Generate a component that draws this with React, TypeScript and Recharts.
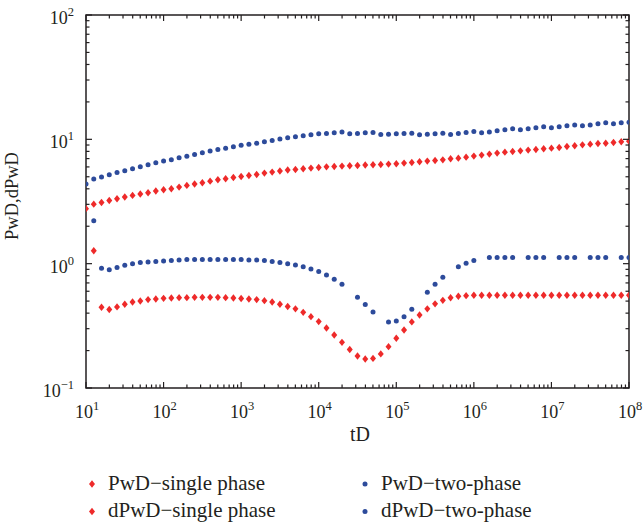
import React from 'react';
import { ScatterChart, Scatter, XAxis, YAxis, ReferenceArea } from 'recharts';

// tD sample points (log-spaced)
const TD = [
  1e1, 1.259e1, 1.585e1, 1.995e1, 2.512e1, 3.162e1, 3.981e1, 5.012e1, 6.31e1, 7.943e1,
  1e2, 1.259e2, 1.585e2, 1.995e2, 2.512e2, 3.162e2, 3.981e2, 5.012e2, 6.31e2, 7.943e2,
  1e3, 1.259e3, 1.585e3, 1.995e3, 2.512e3, 3.162e3, 3.981e3, 5.012e3, 6.31e3, 7.943e3,
  1e4, 1.259e4, 1.585e4, 1.995e4, 2.512e4, 3.162e4, 3.981e4, 5.012e4, 6.31e4, 7.943e4,
  1e5, 1.259e5, 1.585e5, 1.995e5, 2.512e5, 3.162e5, 3.981e5, 5.012e5, 6.31e5, 7.943e5,
  1e6, 1.259e6, 1.585e6, 1.995e6, 2.512e6, 3.162e6, 3.981e6, 5.012e6, 6.31e6, 7.943e6,
  1e7, 1.259e7, 1.585e7, 1.995e7, 2.512e7, 3.162e7, 3.981e7, 5.012e7, 6.31e7, 7.943e7,
  1e8,
];

const PWD_SINGLE = [
  2.77, 3.01, 3.10, 3.22, 3.33, 3.44, 3.54, 3.63, 3.72, 3.84,
  3.93, 4.00, 4.13, 4.26, 4.37, 4.48, 4.61, 4.73, 4.82, 4.93,
  5.02, 5.12, 5.22, 5.35, 5.45, 5.56, 5.66, 5.72, 5.80, 5.87,
  5.94, 6.01, 6.05, 6.09, 6.13, 6.16, 6.21, 6.24, 6.28, 6.32,
  6.36, 6.44, 6.51, 6.60, 6.68, 6.76, 6.84, 6.97, 7.06, 7.19,
  7.33, 7.47, 7.61, 7.75, 7.89, 7.98, 8.08, 8.19, 8.28, 8.39,
  8.49, 8.59, 8.75, 8.87, 9.03, 9.15, 9.25, 9.31, 9.43, 9.55,
  9.67,
];

const DPWD_SINGLE = [
  null, 1.27, 0.446, 0.428, 0.449, 0.471, 0.492, 0.501, 0.514, 0.52,
  0.526, 0.53, 0.533, 0.533, 0.536, 0.536, 0.536, 0.536, 0.533, 0.53,
  0.524, 0.52, 0.514, 0.504, 0.492, 0.471, 0.452, 0.433, 0.406, 0.375,
  0.342, 0.304, 0.267, 0.233, 0.204, 0.181, 0.171, 0.173, 0.188, 0.215,
  0.251, 0.293, 0.34, 0.387, 0.433, 0.475, 0.507, 0.532, 0.547, 0.553,
  0.557, 0.557, 0.557, 0.557, 0.557, 0.557, 0.557, 0.557, 0.557, 0.557,
  0.557, 0.557, 0.557, 0.557, 0.557, 0.557, 0.557, 0.557, 0.557, 0.557,
  0.557,
];

const PWD_TWO = [
  4.37, 4.79, 4.97, 5.19, 5.41, 5.58, 5.80, 6.01, 6.24, 6.47,
  6.68, 6.84, 7.10, 7.32, 7.55, 7.80, 8.04, 8.28, 8.49, 8.71,
  8.97, 9.14, 9.31, 9.55, 9.78, 10.04, 10.28, 10.47, 10.67, 10.87,
  11.07, 11.13, 11.28, 11.43, 11.07, 11.13, 11.28, 11.35, 10.93, 11.0,
  11.07, 11.13, 11.21, 10.87, 11.0, 11.07, 11.21, 10.93, 11.13, 11.35,
  11.55, 11.28, 11.48, 11.70, 11.92, 12.14, 11.92, 12.14, 12.37, 12.60,
  12.37, 12.60, 12.84, 13.07, 12.84, 13.07, 13.32, 13.57, 13.32, 13.57,
  13.75,
];

const DPWD_TWO = [
  null, 2.21, 0.92, 0.895, 0.933, 0.969, 1.0, 1.02, 1.03, 1.04,
  1.05, 1.06, 1.07, 1.08, 1.08, 1.08, 1.08, 1.08, 1.08, 1.08,
  1.08, 1.07, 1.07, 1.06, 1.04, 1.02, 1.0, 0.976, 0.946, 0.906,
  0.863, 0.811, 0.748, 0.682, null, 0.537, 0.469, 0.409, null, 0.34,
  0.346, 0.375, 0.43, null, 0.588, 0.682, 0.776, null, 0.946, 1.01,
  1.06, null, 1.12, 1.12, 1.12, 1.12, null, 1.12, 1.12, 1.12,
  null, 1.12, 1.12, 1.12, null, 1.12, 1.12, 1.12, null, 1.12,
  1.12,
];

const X_MAJOR = [1e1, 1e2, 1e3, 1e4, 1e5, 1e6, 1e7, 1e8];
const Y_MAJOR = [1e-1, 1e0, 1e1, 1e2];

const SERIES_NAMES = ['PwD\u2212single phase', 'dPwD\u2212single phase', 'PwD\u2212two-phase', 'dPwD\u2212two-phase'];

const RED = '#EE2A2A';
const BLUE = '#2D4B9B';
const INK = '#231F20';
const FONT = '"Liberation Serif", "Times New Roman", serif';

const W = 644;
const H = 524;
const AX = 1; // axis band thickness (must be > 0 for Recharts to draw ticks)
const M = { top: 15, right: 15, bottom: 136 - AX, left: 86 - AX };
const PT = 15;
const PB = H - 136;
const PL = 86;
const PR = W - 15;

const withMinors = (majors: number[]) => {
  const out: number[] = [];
  majors.forEach((m, i) => {
    out.push(m);
    if (i < majors.length - 1) for (let k = 2; k <= 9; k++) out.push(m * k);
  });
  return out;
};

const isMajor = (v: number, majors: number[]) => majors.some((m) => Math.abs(m - v) / m < 1e-9);

const toPoints = (vals: (number | null)[]) =>
  TD.map((x, i) => ({ x, y: vals[i] })).filter((p) => p.y != null);

const expLabel = (v: number) => {
  const e = Math.round(Math.log10(v));
  return e < 0 ? '\u2212' + Math.abs(e) : String(e);
};

const XTick = (props: any) => {
  const { x, payload } = props;
  const v = payload.value;
  const major = isMajor(v, X_MAJOR);
  const len = major ? 6 : 3.5;
  return (
    <g>
      <line x1={x} x2={x} y1={PB} y2={PB - len} stroke={INK} strokeWidth={1.2} />
      <line x1={x} x2={x} y1={PT} y2={PT + len} stroke={INK} strokeWidth={1.2} />
      {major && (
        <text x={x + 1} y={PB + 30} textAnchor="middle" fontFamily={FONT} fontSize={18} fill={INK}>
          10
          <tspan dy={-8} fontSize={12.5}>{expLabel(v)}</tspan>
        </text>
      )}
    </g>
  );
};

const YTick = (props: any) => {
  const { y, payload } = props;
  const v = payload.value;
  const major = isMajor(v, Y_MAJOR);
  const len = major ? 6 : 3.5;
  return (
    <g>
      <line x1={PL} x2={PL + len} y1={y} y2={y} stroke={INK} strokeWidth={1.2} />
      <line x1={PR} x2={PR - len} y1={y} y2={y} stroke={INK} strokeWidth={1.2} />
      {major && (
        <text x={PL - 12} y={y + 9} textAnchor="end" fontFamily={FONT} fontSize={18} fill={INK}>
          10
          <tspan dy={-8} fontSize={12.5}>{expLabel(v)}</tspan>
        </text>
      )}
    </g>
  );
};

const Diamond = (props: any) => {
  const { cx, cy } = props;
  if (cx == null || cy == null) return null;
  return <polygon points={`${cx},${cy - 3.7} ${cx + 3},${cy} ${cx},${cy + 3.7} ${cx - 3},${cy}`} fill={RED} />;
};

const Dot = (props: any) => {
  const { cx, cy } = props;
  if (cx == null || cy == null) return null;
  return <circle cx={cx} cy={cy} r={2.5} fill={BLUE} />;
};

const legendItems = [
  { name: SERIES_NAMES[0], color: RED, kind: 'diamond', col: 0, row: 0 },
  { name: SERIES_NAMES[1], color: RED, kind: 'diamond', col: 0, row: 1 },
  { name: SERIES_NAMES[2], color: BLUE, kind: 'dot', col: 1, row: 0 },
  { name: SERIES_NAMES[3], color: BLUE, kind: 'dot', col: 1, row: 1 },
];

export default function App() {
  return (
    <div style={{ position: 'absolute', left: 0, top: 0, width: W, height: H, background: '#fff' }}>
      <ScatterChart width={W} height={H} margin={M}>
        <XAxis
          dataKey="x"
          type="number"
          scale="log"
          domain={[10, 1e8]}
          allowDataOverflow
          ticks={withMinors(X_MAJOR)}
          interval={0}
          tick={<XTick />}
          tickLine={false}
          axisLine={false}
          height={AX}
        />
        <YAxis
          dataKey="y"
          type="number"
          scale="log"
          domain={[0.1, 100]}
          allowDataOverflow
          ticks={withMinors(Y_MAJOR)}
          interval={0}
          tick={<YTick />}
          tickLine={false}
          axisLine={false}
          width={AX}
        />
        <ReferenceArea x1={10} x2={1e8} y1={0.1} y2={100} fill="none" stroke={INK} strokeWidth={1.5} ifOverflow="visible" />
        <Scatter name={SERIES_NAMES[3]} data={toPoints(DPWD_TWO)} shape={<Dot />} isAnimationActive={false} />
        <Scatter name={SERIES_NAMES[2]} data={toPoints(PWD_TWO)} shape={<Dot />} isAnimationActive={false} />
        <Scatter name={SERIES_NAMES[1]} data={toPoints(DPWD_SINGLE)} shape={<Diamond />} isAnimationActive={false} />
        <Scatter name={SERIES_NAMES[0]} data={toPoints(PWD_SINGLE)} shape={<Diamond />} isAnimationActive={false} />
      </ScatterChart>
      <svg width={W} height={H} style={{ position: 'absolute', left: 0, top: 0, pointerEvents: 'none' }}>
        <text x={360} y={441} textAnchor="middle" fontFamily={FONT} fontSize={20} fill={INK}>tD</text>
        <text
          x={18}
          y={196}
          textAnchor="middle"
          fontFamily={FONT}
          fontSize={18.5}
          fill={INK}
          transform="rotate(-90 18 196)"
        >
          PwD,dPwD
        </text>
        {legendItems.map((it) => {
          const mx = it.col === 0 ? 92 : 365;
          const my = it.row === 0 ? 484 : 511.5;
          return (
            <g key={it.name}>
              {it.kind === 'diamond' ? (
                <polygon points={`${mx},${my - 3.7} ${mx + 3},${my} ${mx},${my + 3.7} ${mx - 3},${my}`} fill={it.color} />
              ) : (
                <circle cx={mx} cy={my} r={2.5} fill={it.color} />
              )}
              <text x={mx + 16} y={my + 5.5} fontFamily={FONT} fontSize={21} fill={INK}>
                {it.name}
              </text>
            </g>
          );
        })}
      </svg>
    </div>
  );
}
